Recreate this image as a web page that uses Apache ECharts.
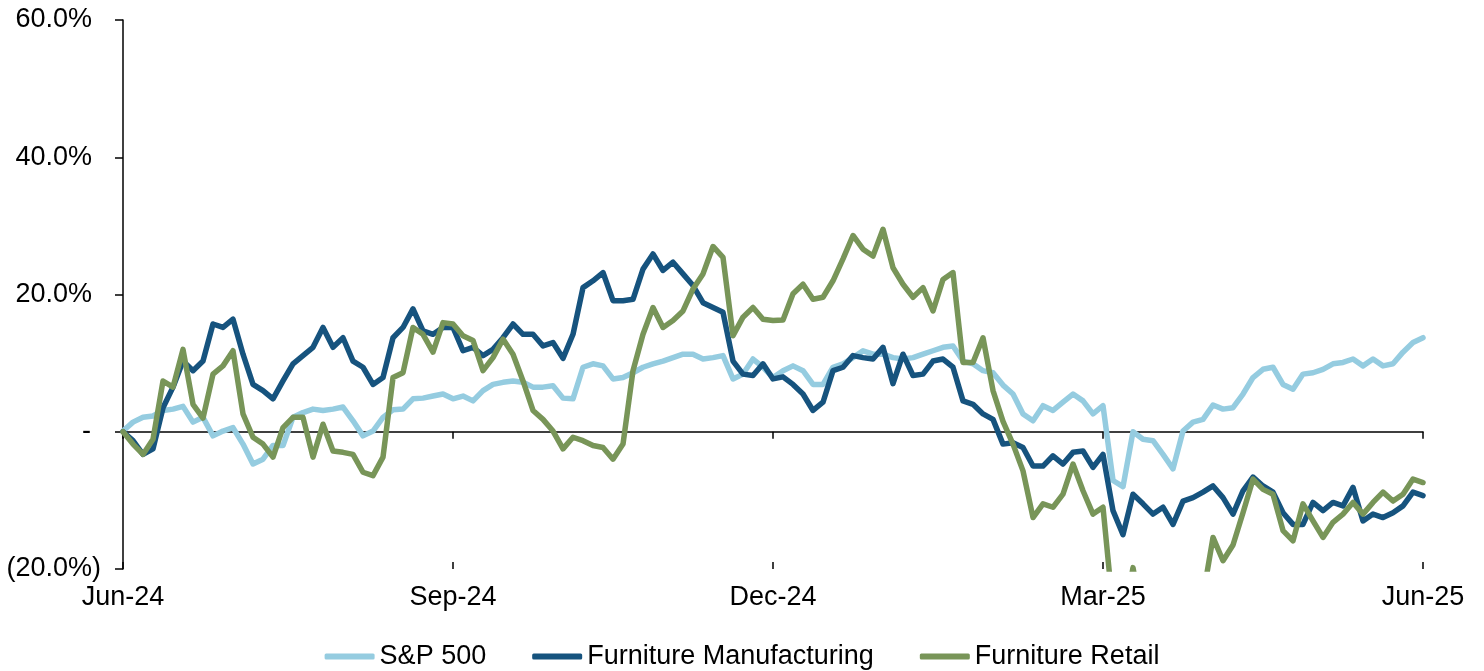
<!DOCTYPE html>
<html>
<head>
<meta charset="utf-8">
<script src="https://cdn.jsdelivr.net/npm/echarts@6/dist/echarts.min.js"></script>
<style>
html,body{margin:0;padding:0;background:#fff;}
#chart{width:1484px;height:671px;}
</style>
</head>
<body>
<div id="chart"></div>
<script>
// period index (roughly every 3 calendar days, Jun-24 .. Jun-25)
const tickIndex = [0, 33, 65, 98, 130];
const tickLabels = ['Jun-24', 'Sep-24', 'Dec-24', 'Mar-25', 'Jun-25'];
const categories = Array.from({length: 131}, (_, i) => String(i));

const seriesNames = ['S&P 500', 'Furniture Manufacturing', 'Furniture Retail'];

const sp500 = [
  0.1, 1.4, 2.1, 2.3, 3.1, 3.3, 3.7, 1.4, 2.1, -0.6,
  0.1, 0.6, -1.8, -4.7, -4.0, -2.0, -2.0, 2.1, 2.8, 3.3,
  3.1, 3.3, 3.6, 1.6, -0.6, 0.1, 2.1, 3.2, 3.3, 4.8,
  4.9, 5.2, 5.5, 4.8, 5.2, 4.5, 6.0, 6.9, 7.2, 7.4,
  7.2, 6.5, 6.5, 6.7, 4.9, 4.8, 9.4, 9.9, 9.6, 7.7,
  7.9, 8.6, 9.4, 9.9, 10.3, 10.8, 11.3, 11.3, 10.6, 10.8,
  11.1, 7.7, 8.4, 10.6, 9.4, 7.9, 8.9, 9.6, 8.9, 6.9,
  6.9, 9.4, 9.9, 10.8, 11.8, 11.3, 11.3, 10.8, 10.6, 10.8,
  11.3, 11.8, 12.3, 12.5, 10.3, 9.9, 8.9, 8.6, 6.8, 5.5,
  2.6, 1.6, 3.8, 3.1, 4.3, 5.5, 4.5, 2.6, 3.8, -7.1,
  -8.0, 0.0, -1.1, -1.3, -3.3, -5.4, 0.1, 1.4, 1.8, 3.9,
  3.3, 3.5, 5.5, 7.9, 9.1, 9.4, 6.9, 6.2, 8.4, 8.6,
  9.1, 9.9, 10.1, 10.6, 9.6, 10.6, 9.6, 9.9, 11.6, 13.0,
  13.7
];

const furnitureMfg = [
  0.0, -1.3, -3.3, -2.5, 3.5, 6.5, 10.3, 8.9, 10.3, 15.7,
  15.2, 16.4, 11.3, 6.9, 6.0, 4.8, 7.4, 9.9, 11.1, 12.3,
  15.2, 12.3, 13.7, 10.3, 9.4, 6.9, 7.9, 13.7, 15.2, 17.9,
  14.7, 14.2, 15.2, 15.2, 11.8, 12.3, 11.1, 12.0, 13.7, 15.7,
  14.2, 14.2, 12.5, 13.0, 10.7, 14.2, 21.0, 22.0, 23.2, 19.1,
  19.1, 19.3, 23.7, 25.9, 23.5, 24.7, 23.0, 21.3, 18.8, 18.1,
  17.4, 10.3, 8.4, 8.2, 9.9, 7.7, 8.0, 6.9, 5.5, 3.1,
  4.3, 8.9, 9.4, 11.1, 10.8, 10.6, 12.3, 7.0, 11.3, 8.2,
  8.4, 10.3, 10.6, 9.4, 4.5, 4.0, 2.6, 1.8, -1.8, -1.6,
  -2.3, -5.0, -5.0, -3.5, -4.7, -3.0, -2.8, -5.2, -3.3, -11.5,
  -15.0, -9.1, -10.5, -12.0, -11.0, -13.5, -10.1, -9.6, -8.8, -7.9,
  -9.6, -12.0, -8.6, -6.6, -7.9, -8.8, -11.8, -13.5, -13.5, -10.3,
  -11.5, -10.3, -10.8, -8.1, -13.0, -12.0, -12.5, -11.8, -10.8, -8.8,
  -9.3
];

const furnitureRetail = [
  0.0, -1.8, -3.3, -1.1, 7.4, 6.5, 12.0, 4.0, 2.0, 8.4,
  9.6, 11.8, 2.6, -0.8, -1.8, -3.7, 0.6, 2.1, 2.1, -3.7,
  1.1, -2.8, -3.0, -3.3, -5.9, -6.4, -3.7, 7.9, 8.6, 15.2,
  14.2, 11.6, 15.9, 15.7, 14.0, 13.3, 8.9, 10.8, 13.5, 11.3,
  7.4, 3.1, 1.8, 0.1, -2.5, -0.8, -1.3, -2.0, -2.3, -4.0,
  -1.8, 8.9, 14.2, 18.1, 15.2, 16.2, 17.6, 20.8, 23.0, 27.0,
  25.4, 14.0, 16.7, 18.1, 16.4, 16.2, 16.3, 20.1, 21.5, 19.3,
  19.6, 22.0, 25.2, 28.6, 26.6, 25.6, 29.5, 23.9, 21.5, 19.6,
  21.0, 17.6, 22.2, 23.2, 10.1, 10.1, 13.7, 6.0, 1.5, -1.8,
  -5.7, -12.5, -10.5, -11.0, -9.1, -4.7, -8.6, -12.0, -11.0, -26.0,
  -28.0, -19.8, -28.0, -30.0, -30.0, -30.0, -30.0, -28.0, -24.0, -15.4,
  -18.8, -16.5, -11.8, -6.9, -8.4, -9.1, -14.4, -15.9, -10.5, -13.0,
  -15.4, -13.2, -12.0, -10.3, -12.0, -10.3, -8.8, -10.1, -9.1, -6.9,
  -7.4
];

const colors = ['#95CCE0', '#16537E', '#789558'];
const FONT = "'Liberation Sans', Arial, sans-serif";
const FS = 27;

function isTick(idx) { return tickIndex.indexOf(idx) >= 0; }
function tickText(val, idx) {
  const k = tickIndex.indexOf(idx);
  return k >= 0 ? tickLabels[k] : '';
}
function yFmt(v) {
  if (v === 0) return '{z|-}';
  if (v < 0) return '{n|(' + Math.abs(v).toFixed(1) + '%)}';
  return '{p|' + v.toFixed(1) + '%}';
}

const chart = echarts.init(document.getElementById('chart'), null, {renderer: 'canvas'});
const baseX = {
  type: 'category',
  data: categories,
  boundaryGap: false,
  gridIndex: 0
};
chart.setOption({
  animation: false,
  backgroundColor: '#ffffff',
  textStyle: {fontFamily: FONT},
  grid: {left: 123, right: 61, top: 20, bottom: 102, containLabel: false, outerBoundsMode: 'none'},
  legend: {
    data: seriesNames,
    left: 'center',
    top: 638,
    icon: 'roundRect',
    itemWidth: 50,
    itemHeight: 6,
    itemGap: 46,
    textStyle: {fontSize: FS, color: '#000', fontFamily: FONT}
  },
  xAxis: [
    Object.assign({}, baseX, {
      position: 'bottom',
      axisLine: {show: true, onZero: true, lineStyle: {color: '#000', width: 1.5}},
      axisTick: {show: true, inside: false, length: 7, interval: isTick, lineStyle: {color: '#000', width: 1.5}},
      axisLabel: {show: false},
      splitLine: {show: false}
    }),
    Object.assign({}, baseX, {
      position: 'bottom',
      axisLine: {show: false, onZero: true},
      axisTick: {show: true, inside: true, length: 7, interval: isTick, lineStyle: {color: '#000', width: 1.5}},
      axisLabel: {show: false},
      splitLine: {show: false}
    }),
    Object.assign({}, baseX, {
      position: 'bottom',
      axisLine: {show: false, onZero: false},
      axisTick: {show: false},
      axisLabel: {
        show: true, interval: isTick, formatter: tickText, margin: 15,
        fontSize: FS, color: '#000', fontFamily: FONT,
        showMinLabel: true, showMaxLabel: true
      },
      splitLine: {show: false}
    })
  ],
  yAxis: {
    type: 'value',
    min: -20,
    max: 60,
    interval: 20,
    axisLine: {show: true, onZero: false, lineStyle: {color: '#000', width: 1.5}},
    axisTick: {show: true, inside: false, length: 8, lineStyle: {color: '#000', width: 1.5}},
    splitLine: {show: false},
    axisLabel: {
      formatter: yFmt,
      margin: 22,
      color: '#000',
      fontSize: FS,
      fontFamily: FONT,
      rich: {
        p: {fontSize: FS, fontFamily: FONT, color: '#000', padding: [0, 9, 0, 0]},
        z: {fontSize: FS, fontFamily: FONT, color: '#000', padding: [0, 10, 0, 0]},
        n: {fontSize: FS, fontFamily: FONT, color: '#000'}
      }
    }
  },
  series: [
    {name: seriesNames[0], data: sp500, color: colors[0]},
    {name: seriesNames[1], data: furnitureMfg, color: colors[1]},
    {name: seriesNames[2], data: furnitureRetail, color: colors[2]}
  ].map(s => ({
    type: 'line',
    name: s.name,
    data: s.data,
    xAxisIndex: 0,
    yAxisIndex: 0,
    showSymbol: false,
    symbol: 'none',
    clip: true,
    itemStyle: {color: s.color},
    lineStyle: {color: s.color, width: 5.5, cap: 'round', join: 'round'},
    emphasis: {disabled: true}
  }))
});
</script>
</body>
</html>
